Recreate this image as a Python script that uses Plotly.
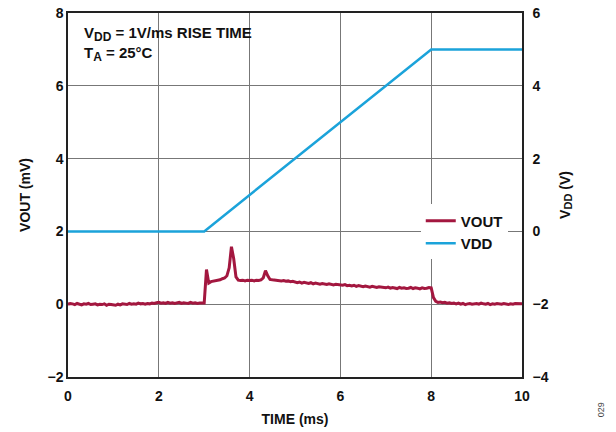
import numpy as np
import plotly.graph_objects as go

# time axis (ms), 0.05 ms step
time_ms = np.round(np.arange(0, 10.0001, 0.05), 2)

vout_mv = [
    0.00, 0.02, 0.01, -0.01, 0.02, 0.00, -0.02, 0.01, 0.00, 0.02, -0.01, 0.00, 0.01, -0.02, 0.00, -0.01, 0.01, -0.03, 0.00, -0.01,
    -0.02, -0.03, 0.00, -0.02, 0.01, 0.00, -0.01, 0.02, 0.00, 0.01, 0.00, 0.03, 0.01, 0.02, 0.00, 0.02, 0.01, 0.03, 0.02, 0.04,
    0.05, 0.03, 0.04, 0.02, 0.05, 0.03, 0.04, 0.02, 0.03, 0.05, 0.02, 0.04, 0.03, 0.02, 0.05, 0.03, 0.04, 0.02, 0.03, 0.02,
    0.03, 0.95, 0.58, 0.62, 0.63, 0.64, 0.66, 0.67, 0.70, 0.72, 0.78, 1.00, 1.58, 1.25, 0.75, 0.66, 0.65, 0.66, 0.64, 0.66,
    0.65, 0.66, 0.64, 0.66, 0.65, 0.67, 0.72, 0.92, 0.78, 0.68, 0.67, 0.66, 0.65, 0.66, 0.64, 0.65, 0.63, 0.64, 0.62, 0.63,
    0.60, 0.59, 0.61, 0.58, 0.60, 0.58, 0.57, 0.59, 0.56, 0.58, 0.57, 0.55, 0.57, 0.56, 0.54, 0.56, 0.55, 0.53, 0.55, 0.54,
    0.53, 0.52, 0.54, 0.51, 0.52, 0.50, 0.52, 0.49, 0.51, 0.50, 0.48, 0.50, 0.49, 0.47, 0.49, 0.48, 0.46, 0.48, 0.47, 0.46,
    0.45, 0.47, 0.44, 0.46, 0.45, 0.43, 0.46, 0.44, 0.45, 0.43, 0.44, 0.46, 0.43, 0.45, 0.44, 0.42, 0.45, 0.43, 0.44, 0.46,
    0.45, 0.18, 0.08, 0.05, 0.06, 0.04, 0.05, 0.03, 0.04, 0.02, 0.03, 0.01, 0.03, 0.00, 0.02, -0.01, 0.01, 0.02, 0.00, 0.01,
    0.02, 0.00, 0.03, 0.01, 0.00, 0.02, -0.01, 0.01, 0.00, 0.02, 0.01, 0.00, 0.02, 0.01, -0.01, 0.01, 0.00, 0.02, 0.01, 0.00, 0.01,
]

vdd_time_ms = [0, 3, 8, 10]
vdd_v = [0, 0, 5, 5]

x_ticks = [0, 2, 4, 6, 8, 10]
y1_ticks = [-2, 0, 2, 4, 6, 8]
y2_ticks = [-4, -2, 0, 2, 4, 6]

FONT = "Liberation Sans, Arial, sans-serif"
RED = "#A3173F"
BLUE = "#1BA3DA"

fig = go.Figure()
fig.add_trace(go.Scatter(x=time_ms, y=vout_mv, mode="lines", name="VOUT",
                         line=dict(color=RED, width=3)))
fig.add_trace(go.Scatter(x=vdd_time_ms, y=vdd_v, mode="lines", name="VDD", yaxis="y2",
                         line=dict(color=BLUE, width=2.5)))

axis_common = dict(showline=True, linecolor="#222", linewidth=1.5,
                   tickfont=dict(family=FONT, size=14, color="#111", weight="bold"),
                   zeroline=False, ticks="", automargin=False)

fig.update_layout(
    width=616, height=432,
    margin=dict(l=68, r=94, t=13, b=55),
    paper_bgcolor="white", plot_bgcolor="white",
    font=dict(family=FONT, color="#111"),
    xaxis=dict(range=[0, 10], tickvals=x_ticks, mirror=True,
               showgrid=True, gridcolor="#777", gridwidth=1, ticklabelstandoff=5,
               title=dict(text="<b>TIME (ms)</b>", font=dict(size=14), standoff=12),
               **axis_common),
    yaxis=dict(range=[-2, 8], tickvals=y1_ticks,
               showgrid=True, gridcolor="#777", gridwidth=1,
               title=dict(text="<b>VOUT (mV)</b>", font=dict(size=14), standoff=14),
               **axis_common),
    yaxis2=dict(range=[-4, 6], tickvals=y2_ticks, overlaying="y", side="right",
                showgrid=False, ticklabelstandoff=6,
                title=dict(text="<b>V<sub><span style='font-size:11px'>DD</span></sub> (V)</b>",
                           font=dict(size=14), standoff=12),
                **axis_common),
    legend=dict(x=0.777, y=0.474, xanchor="left", yanchor="top",
                bgcolor="white", borderwidth=0,
                font=dict(family=FONT, size=15, color="#111", weight="bold"),
                tracegroupgap=0, itemwidth=30),
    showlegend=True,
)

fig.add_annotation(xref="paper", yref="paper", x=0.03, y=0.975, xanchor="left", yanchor="top",
                   align="left", showarrow=False,
                   text=("<b>V<sub><span style='font-size:12px'>DD</span></sub> = 1V/ms RISE TIME<br>"
                         "T<sub><span style='font-size:12px'>A</span></sub> = 25°C</b>"),
                   font=dict(family=FONT, size=15, color="#111"))

fig.add_annotation(xref="paper", yref="paper", x=1.173, y=-0.09, xanchor="center", yanchor="middle",
                   showarrow=False, textangle=-90, text="029",
                   font=dict(family=FONT, size=9, color="#444"))

fig.write_html("out.html")
